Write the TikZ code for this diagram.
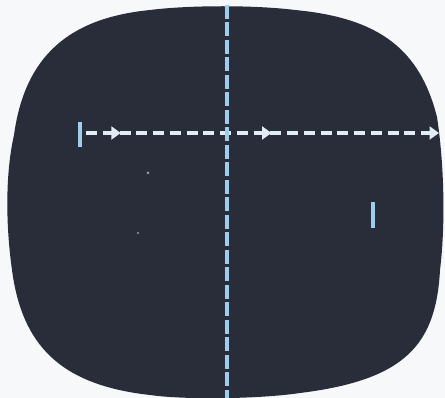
\documentclass[tikz,border=0pt]{standalone}
\usetikzlibrary{arrows.meta}
\definecolor{bgc}{RGB}{246,248,250}
\definecolor{screenc}{RGB}{41,45,58}
\definecolor{vlinec}{RGB}{160,205,235}
\definecolor{hlinec}{RGB}{226,236,243}
\definecolor{dotc}{RGB}{150,155,165}
\tikzset{
  vdash/.style={draw=vlinec, line width=4.5pt, dash pattern=on 14pt off 3.5pt},
  hdash/.style={draw=hlinec, line width=4pt},
  harrow/.style={hdash, -{Triangle[length=9.5pt,width=13pt]}},
  paddle/.style={draw=vlinec, line width=4.5pt},
}
\begin{document}
\begin{tikzpicture}[x=1pt,y=-1pt]
\useasboundingbox (0,0) rectangle (445,398);
\fill[bgc] (0,0) rectangle (445,398);
% CRT screen
\fill[screenc] (150,10) .. controls (190,5) and (255,5) .. (295,10)
  .. controls (380,18) and (420,50) .. (437,117)
  .. controls (445,170) and (445,230) .. (440,270)
  .. controls (436,345) and (405,380) .. (300,393)
  .. controls (260,399) and (185,400) .. (150,395)
  .. controls (60,385) and (22,345) .. (12,270)
  .. controls (5,220) and (6,170) .. (14,135)
  .. controls (25,55) and (70,18) .. (150,10) -- cycle;
% faint specks
\fill[dotc] (148,173) circle (1.5);
\fill[dotc] (138,233) circle (1.2);
% horizontal dashed path with arrows
\foreach \i in {0,2,3,4,5,6,7,8,9,11,12,13,14,15,16,17,18,19}
  \draw[hdash] ({86+16.75*\i},133) -- ++(11,0);
\foreach \i in {1,10,20}
  \draw[harrow] ({86+16.75*\i},133) -- ++(18,0);
% centre net
\coordinate (ntop) at (227,5);
\coordinate (nbot) at (227,398);
\draw[vdash] (ntop) -- (nbot);
% paddles
\draw[paddle] (80,122) -- (80,147);
\draw[paddle] (373,202) -- (373,228);
\end{tikzpicture}
\end{document}
